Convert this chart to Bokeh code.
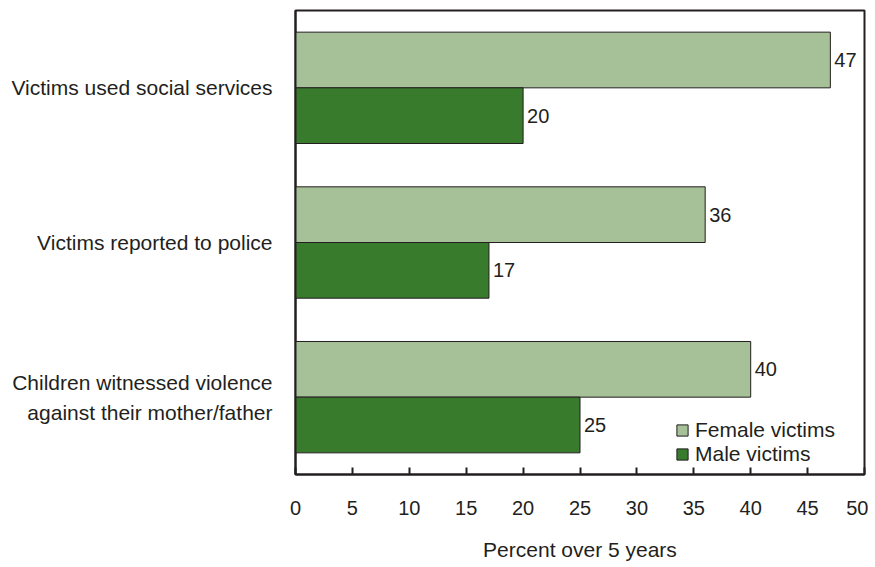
from bokeh.plotting import figure
from bokeh.models import ColumnDataSource, FixedTicker, Legend, LegendItem
from bokeh.embed import file_html
from bokeh.resources import INLINE
from bokeh.core.properties import value

categories = ["Victims used social services", "Victims reported to police",
              "Children witnessed violence\nagainst their mother/father"]
female = [47, 36, 40]
male = [20, 17, 25]
series_names = ["Female victims", "Male victims"]
x_ticks = [0, 5, 10, 15, 20, 25, 30, 35, 40, 45, 50]

FONT = "Liberation Sans"
TXT = "#231f20"
C_F = "#a6c097"
C_M = "#387b2c"

n = len(categories)
centers = [n - 0.5 - i for i in range(n)]
bh = 0.36

src_f = ColumnDataSource(dict(y=[c + bh / 2 for c in centers], x=female, lbl=[str(v) for v in female]))
src_m = ColumnDataSource(dict(y=[c - bh / 2 for c in centers], x=male, lbl=[str(v) for v in male]))

p = figure(width=868, height=567, x_range=(0, 50), y_range=(0, n),
           output_backend="svg", toolbar_location=None,
           min_border_left=295, min_border_right=4, min_border_top=10, min_border_bottom=93)

rf = p.hbar(y="y", right="x", left=0, height=bh, source=src_f, fill_color=C_F, line_color=TXT, line_width=1)
rm = p.hbar(y="y", right="x", left=0, height=bh, source=src_m, fill_color=C_M, line_color=TXT, line_width=1)

for s in (src_f, src_m):
    p.text(x="x", y="y", text="lbl", source=s, x_offset=4, text_align="left", text_baseline="middle",
           text_font=value(FONT), text_font_size="20px", text_color=TXT)

p.xgrid.visible = False
p.ygrid.visible = False
p.outline_line_color = TXT
p.outline_line_width = 2

xa = p.xaxis[0]
xa.ticker = FixedTicker(ticks=x_ticks)
xa.major_tick_in = 7
xa.major_tick_out = 0
xa.minor_tick_line_color = None
xa.axis_line_color = TXT
xa.axis_line_width = 2
xa.major_tick_line_color = TXT
xa.major_tick_line_width = 2
xa.major_label_text_font = FONT
xa.major_label_text_font_size = "20px"
xa.major_label_text_color = TXT
xa.major_label_standoff = 26
xa.axis_label = "Percent over 5 years"
xa.axis_label_text_font = FONT
xa.axis_label_text_font_size = "21px"
xa.axis_label_text_font_style = "normal"
xa.axis_label_text_color = TXT
xa.axis_label_standoff = 20

ya = p.yaxis[0]
ya.ticker = FixedTicker(ticks=centers)
ya.major_label_overrides = {c: categories[i] for i, c in enumerate(centers)}
ya.major_tick_line_color = None
ya.minor_tick_line_color = None
ya.axis_line_color = TXT
ya.axis_line_width = 2
ya.major_label_text_font = FONT
ya.major_label_text_font_size = "21px"
ya.major_label_text_color = TXT
ya.major_label_standoff = 17
ya.major_label_text_align = "right"
ya.major_label_text_line_height = 1.3

legend = Legend(items=[LegendItem(label=series_names[0], renderers=[rf]),
                       LegendItem(label=series_names[1], renderers=[rm])],
                location=(380, 8), background_fill_alpha=0, border_line_color=None,
                label_text_font=FONT, label_text_font_size="21px", label_text_color=TXT,
                glyph_width=14, glyph_height=14, label_standoff=6, spacing=0,
                padding=2, margin=0, label_height=22)
p.add_layout(legend)

open("out.html", "w").write(file_html(p, INLINE))
